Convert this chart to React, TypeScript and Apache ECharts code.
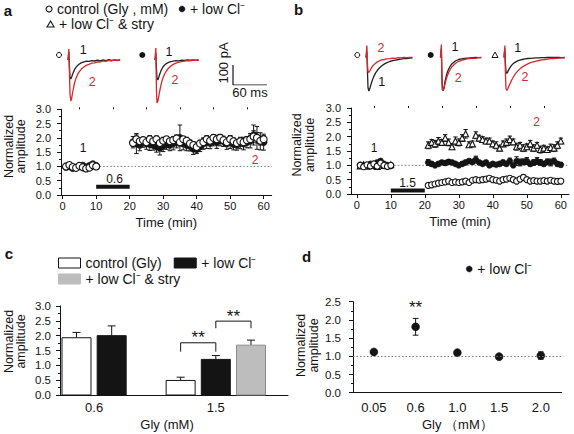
import React, { useEffect, useRef } from "react";
import * as echarts from "echarts";

const FONT = '"Liberation Sans", Arial, Helvetica, sans-serif';
const INK = "#141414";
const RED = "#d7282c";
const BAR_GRAY = "#bdbdbd";
const DOT = "#777777";

const CTRL_A = "control (Gly , mM)";
const LOW = "+ low Cl⁻";
const STRY = "+ low Cl⁻ & stry";
const CTRL_C = "control (Gly)";

// ---------- panels a & b : time course ----------
const TIME_TICKS = [0, 10, 20, 30, 40, 50, 60];
const TIME_MINOR = [5, 15, 25, 35, 45, 55];
const A_TIME_RANGE = [-0.5, 62.4];
const B_TIME_RANGE = [-1.7, 62.4];
const BASE_T = [1, 2, 3, 4, 5, 6, 7, 8, 9, 10];
const DRUG_T = [21, 22, 23, 24, 25, 26, 27, 28, 29, 30, 31, 32, 33, 34, 35, 36, 37, 38, 39, 40,
  41, 42, 43, 44, 45, 46, 47, 48, 49, 50, 51, 52, 53, 54, 55, 56, 57, 58, 59, 60];

const A_CTRL_BASE = [1.0, 1.05, 0.98, 0.95, 1.02, 0.97, 0.93, 0.96, 1.04, 1.0];
const A_CTRL_BASE_ERR = [0.04, 0.08, 0.05, 0.04, 0.05, 0.06, 0.05, 0.05, 0.06, 0.05];
const A_LOW_BASE = [0.98, 1.0, 0.94, 0.96, 1.0, 1.03, 0.97, 1.02, 1.08, 1.02];
const A_LOW_BASE_ERR = [0.05, 0.06, 0.05, 0.05, 0.04, 0.05, 0.06, 0.05, 0.06, 0.05];
const A_CTRL_DRUG = [1.82, 1.95, 1.88, 1.92, 1.85, 1.95, 1.88, 1.95, 1.82, 1.9,
  1.95, 1.88, 1.92, 1.98, 1.85, 1.95, 1.9, 1.8, 1.75, 1.68,
  1.8, 1.85, 1.95, 1.9, 2.0, 1.95, 2.0, 1.92, 1.85, 1.95,
  1.88, 1.82, 1.88, 1.85, 1.92, 1.95, 2.05, 2.0, 1.9, 1.95];
const A_CTRL_DRUG_ERR = [0.12, 0.15, 0.12, 0.1, 0.12, 0.13, 0.1, 0.12, 0.15, 0.12,
  0.1, 0.12, 0.13, 0.12, 0.14, 0.1, 0.12, 0.13, 0.12, 0.1,
  0.12, 0.13, 0.12, 0.1, 0.12, 0.14, 0.12, 0.1, 0.12, 0.13,
  0.12, 0.1, 0.12, 0.13, 0.12, 0.14, 0.2, 0.18, 0.15, 0.13];
const A_LOW_DRUG = [1.85, 1.8, 1.75, 1.85, 1.8, 1.78, 1.75, 1.7, 1.65, 1.72,
  1.78, 1.75, 1.8, 1.85, 2.0, 1.8, 1.75, 1.72, 1.62, 1.6,
  1.7, 1.8, 1.85, 1.82, 1.9, 1.85, 1.92, 1.88, 1.8, 1.85,
  1.78, 1.75, 1.82, 1.8, 1.85, 1.9, 2.1, 2.0, 1.88, 1.85];
const A_LOW_DRUG_ERR = [0.2, 0.35, 0.2, 0.18, 0.2, 0.22, 0.18, 0.2, 0.25, 0.2,
  0.18, 0.2, 0.22, 0.2, 0.45, 0.22, 0.2, 0.18, 0.2, 0.15,
  0.18, 0.2, 0.22, 0.2, 0.18, 0.22, 0.2, 0.18, 0.2, 0.22,
  0.2, 0.18, 0.2, 0.22, 0.2, 0.25, 0.35, 0.4, 0.3, 0.28];

const B_CTRL_BASE = [1.0, 0.95, 1.02, 0.98, 1.05, 0.97, 1.08, 1.0, 0.96, 1.0];
const B_CTRL_BASE_ERR = [0.05, 0.05, 0.06, 0.05, 0.05, 0.06, 0.07, 0.05, 0.05, 0.05];
const B_LOW_BASE = [1.02, 0.98, 1.0, 1.05, 1.0, 1.1, 1.15, 1.05, 1.0, 0.98];
const B_LOW_BASE_ERR = [0.05, 0.05, 0.05, 0.06, 0.05, 0.06, 0.07, 0.06, 0.05, 0.05];
const B_STRY_BASE = [0.98, 1.02, 0.97, 1.0, 1.03, 0.96, 1.05, 1.0, 0.99, 1.02];
const B_STRY_BASE_ERR = [0.05, 0.05, 0.05, 0.05, 0.05, 0.05, 0.06, 0.05, 0.05, 0.05];
const B_CTRL_DRUG = [0.3, 0.32, 0.35, 0.38, 0.4, 0.42, 0.45, 0.4, 0.42, 0.4,
  0.42, 0.45, 0.4, 0.48, 0.5, 0.48, 0.5, 0.52, 0.55, 0.5,
  0.48, 0.45, 0.5, 0.52, 0.55, 0.5, 0.45, 0.52, 0.58, 0.5,
  0.45, 0.47, 0.45, 0.45, 0.47, 0.45, 0.48, 0.45, 0.44, 0.45];
const B_CTRL_DRUG_ERR = [0.03, 0.04, 0.04, 0.05, 0.05, 0.05, 0.06, 0.05, 0.05, 0.05,
  0.05, 0.06, 0.05, 0.06, 0.06, 0.05, 0.06, 0.06, 0.07, 0.06,
  0.05, 0.05, 0.06, 0.06, 0.07, 0.06, 0.05, 0.06, 0.08, 0.06,
  0.05, 0.05, 0.05, 0.05, 0.05, 0.05, 0.05, 0.05, 0.05, 0.05];
const B_LOW_DRUG = [1.1, 1.05, 1.0, 1.05, 1.1, 1.08, 1.12, 1.1, 1.05, 1.0,
  1.05, 1.1, 1.15, 1.12, 1.2, 1.1, 1.05, 1.1, 1.0, 1.05,
  1.02, 1.05, 1.1, 1.05, 1.15, 1.0, 1.15, 1.1, 1.12, 1.15,
  1.05, 1.1, 1.15, 1.1, 1.05, 1.12, 1.1, 1.15, 1.05, 1.02];
const B_LOW_DRUG_ERR = [0.1, 0.08, 0.06, 0.07, 0.06, 0.07, 0.08, 0.07, 0.06, 0.06,
  0.07, 0.08, 0.07, 0.08, 0.12, 0.07, 0.06, 0.07, 0.06, 0.07,
  0.06, 0.07, 0.08, 0.07, 0.1, 0.06, 0.15, 0.12, 0.1, 0.12,
  0.08, 0.1, 0.12, 0.1, 0.08, 0.1, 0.12, 0.1, 0.08, 0.08];
const B_STRY_DRUG = [1.7, 1.8, 1.75, 1.85, 1.8, 1.95, 1.8, 1.65, 1.85, 1.8,
  1.95, 2.1, 1.72, 1.75, 2.05, 1.95, 1.9, 1.85, 1.85, 1.75,
  1.7, 1.6, 1.75, 1.8, 1.9, 1.82, 1.65, 1.7, 1.6, 1.65,
  1.75, 1.6, 1.7, 1.55, 1.6, 1.55, 1.62, 1.6, 1.7, 1.85];
const B_STRY_DRUG_ERR = [0.12, 0.1, 0.12, 0.12, 0.1, 0.12, 0.12, 0.1, 0.14, 0.12,
  0.12, 0.15, 0.1, 0.1, 0.12, 0.1, 0.1, 0.1, 0.1, 0.1,
  0.12, 0.1, 0.1, 0.12, 0.12, 0.1, 0.12, 0.1, 0.12, 0.1,
  0.12, 0.12, 0.1, 0.12, 0.1, 0.1, 0.12, 0.12, 0.12, 0.1];

// drug application bars (start, end) and the level they are drawn at
const A_APP = [10, 20];
const A_APP_LEVEL = 0.29;
const B_APP = [10, 20];
const B_APP_LEVEL = 0.12;
const REF_LEVEL = 1.0;
const REF_FROM = 10;

// ---------- example current traces (ms, pA) ----------
const TR_T = [0, 1.5, 2.5, 3.5, 5, 6.5, 8, 10, 12, 14, 17, 20, 24, 28, 32, 37, 42, 47, 52, 57,
  62, 67, 72, 77, 82, 87, 92, 97, 102, 107];
const TR_A1_BLACK = [0, 40, -30, -85, -95, -85, -72, -58, -46, -37, -27, -20, -13, -10, -6, -7, -3, -5, -1, -4, 0, -3, 2, -2, 1, -1, 0];
const TR_A1_RED = [0, 55, -60, -170, -205, -190, -165, -135, -110, -92, -72, -58, -44, -35, -27, -22, -16, -14, -9, -10, -5, -7, -2, -5, 0, -3, 1];
const TR_A2_BLACK = [0, 35, -40, -90, -100, -88, -74, -58, -45, -35, -25, -18, -12, -8, -6, -3, -4, -1, -2, 0, -1, 1, -1, 0];
const TR_A2_RED = [0, 60, -150, -215, -205, -185, -160, -132, -108, -90, -70, -55, -40, -30, -22, -16, -11, -8, -6, -3, -4, -1, -2, 0];
const TR_B1_BLACK = [0, 30, -60, -150, -168, -158, -142, -124, -107, -93, -77, -64, -51, -41, -33, -26, -20, -16, -13, -10, -8, -6, -6, -3, -2];
const TR_B1_RED = [0, 60, -30, -70, -75, -68, -60, -50, -42, -36, -28, -22, -16, -12, -10, -7, -6, -3, -4, -1, -2, 0, -1, 1, 0];
const TR_B2_BLACK = [0, 45, -90, -160, -165, -145, -120, -95, -75, -60, -44, -32, -22, -15, -10, -7, -5, -3, -2, -1, 0, -1, 0];
const TR_B2_RED = [0, 65, -120, -165, -162, -150, -132, -110, -92, -77, -60, -47, -35, -26, -19, -14, -10, -7, -6, -3, -4, -1, -1];
const TR_B3_BLACK = [0, 45, -30, -72, -80, -72, -63, -53, -44, -37, -29, -23, -17, -13, -10, -7, -5, -4, -3, -2, -2, -1, -1, 0, 0, 1, 0, 0, -1, 0];
const TR_B3_RED = [0, 60, -80, -155, -165, -158, -148, -135, -122, -110, -95, -82, -68, -57, -48, -39, -32, -26, -22, -18, -15, -12, -10, -8, -6, -5, -4, -3, -2, -2];
const TR_DUR = [92, 78, 86, 74, 107];
const TR_Y = [-230, 75];
const SCALE_BAR = [[0, 100], [0, 0], [60, 0]]; // 100 pA, 60 ms

// ---------- panel c ----------
const C_GROUPS = ["0.6", "1.5"];
const C_CTRL = [1.93, 0.49];
const C_CTRL_ERR = [0.18, 0.11];
const C_LOW = [2.0, 1.2];
const C_LOW_ERR = [0.33, 0.13];
const C_STRY = [null, 1.68];
const C_STRY_ERR = [null, 0.17];
const C_SIG_GROUP = [1, 1];
const C_SIG_FROM = [0, 1];
const C_SIG_TO = [1, 2];
const C_SIG_TOP = [1.76, 2.49];
const C_SIG_LEG = [0.3, 0.24];
const C_SIG_TEXT = ["**", "**"];

// ---------- panel d ----------
const D_CATS = ["0.05", "0.6", "1.0", "1.5", "2.0"];
const D_VALS = [1.12, 1.81, 1.1, 0.99, 1.02];
const D_ERRS = [0.04, 0.23, 0.04, 0.03, 0.1];
const D_SIG_CAT = [1];
const D_SIG_LEVEL = [2.33];
const D_SIG_TEXT = ["**"];

// ---------- helpers ----------
const withErr = (t: number[], v: number[], e: number[]) => t.map((x, i) => [x, v[i], e[i]]);
const zipXY = (t: number[], v: number[]) => v.map((y, i) => [t[i], y]);

const errRender = (cap: number, both: boolean) => (_p: any, api: any) => {
  const x = api.value(0), y = api.value(1), e = api.value(2);
  const p = api.coord([x, y]);
  const hi = api.coord([x, y + e]);
  const lo = both ? api.coord([x, y - e]) : p;
  const st = { stroke: INK, lineWidth: 1, fill: null };
  const children: any[] = [
    { type: "line", shape: { x1: p[0], y1: hi[1], x2: p[0], y2: lo[1] }, style: st },
    { type: "line", shape: { x1: p[0] - cap, y1: hi[1], x2: p[0] + cap, y2: hi[1] }, style: st },
  ];
  if (both) children.push({ type: "line", shape: { x1: p[0] - cap, y1: lo[1], x2: p[0] + cap, y2: lo[1] }, style: st });
  return { type: "group", children };
};

const openStyle = { color: "#fff", borderColor: INK, borderWidth: 1.1, opacity: 1 };
const fillStyle = { color: INK, borderColor: INK, borderWidth: 0.5, opacity: 1 };

function course(axis: number, name: string, symbol: string, filled: boolean, size: number, data: number[][]) {
  return [
    { type: "custom", name, xAxisIndex: axis, yAxisIndex: axis, data, renderItem: errRender(2.2, true), encode: { x: 0, y: 1 }, silent: true },
    {
      type: "scatter", name, xAxisIndex: axis, yAxisIndex: axis, data: data.map((d) => [d[0], d[1]]),
      symbol, symbolSize: size, itemStyle: filled ? fillStyle : openStyle, silent: true,
      emphasis: { disabled: true },
    },
  ];
}

function textSeries(axis: number, xs: any[], ys: number[], texts: string[], color: string, size: number) {
  return {
    type: "custom", xAxisIndex: axis, yAxisIndex: axis, silent: true, z: 5,
    data: xs.map((x, i) => [x, ys[i], i]),
    renderItem: (_p: any, api: any) => {
      const i = api.value(2);
      const p = api.coord([api.value(0), api.value(1)]);
      return {
        type: "text", x: p[0], y: p[1],
        style: { text: texts[i], fill: color, fontSize: size, fontFamily: FONT, align: "center", verticalAlign: "middle" },
      };
    },
  };
}

function lineSeries(axis: number, data: number[][], lineStyle: any, z = 2) {
  return { type: "line", xAxisIndex: axis, yAxisIndex: axis, data, symbol: "none", showSymbol: false, lineStyle, silent: true, z, animation: false };
}

function timeAxis(grid: number, range: number[]) {
  return {
    type: "value", gridIndex: grid, min: range[0], max: range[1],
    axisLine: { show: true, onZero: false, lineStyle: { color: INK, width: 1 } },
    axisTick: { show: true, customValues: TIME_TICKS, length: 4, lineStyle: { color: INK } },
    axisLabel: { customValues: TIME_TICKS, fontSize: 11, color: INK, fontFamily: FONT, margin: 5 },
    splitLine: { show: false },
    name: "Time (min)", nameLocation: "middle", nameGap: 21,
    nameTextStyle: { fontSize: 13, color: INK, fontFamily: FONT },
  };
}
function minorTimeAxis(grid: number, range: number[]) {
  return {
    type: "value", gridIndex: grid, min: range[0], max: range[1],
    axisLine: { show: false, onZero: false },
    axisTick: { show: true, customValues: TIME_MINOR, length: 2, lineStyle: { color: INK } },
    axisLabel: { show: false }, splitLine: { show: false },
  };
}
function ampAxis(grid: number, max: number, size: number, margin: number) {
  return {
    type: "value", gridIndex: grid, min: 0, max, interval: 0.5,
    axisLine: { show: true, onZero: false, lineStyle: { color: INK, width: 1 } },
    axisTick: { show: true, length: 4, lineStyle: { color: INK } },
    minorTick: { show: true, splitNumber: 2, length: 2, lineStyle: { color: INK } },
    axisLabel: { formatter: (v: number) => v.toFixed(1), fontSize: size, color: INK, fontFamily: FONT, margin },
    splitLine: { show: false }, minorSplitLine: { show: false },
  };
}
const hidden = (grid: number, min: number, max: number) => ({ type: "value", gridIndex: grid, min, max, show: false });

// panel c geometry
const C_SETS = [
  { name: CTRL_C, vals: C_CTRL, errs: C_CTRL_ERR, fill: "#fff", stroke: INK },
  { name: LOW, vals: C_LOW, errs: C_LOW_ERR, fill: INK, stroke: INK },
  { name: STRY, vals: C_STRY, errs: C_STRY_ERR, fill: BAR_GRAY, stroke: "#8c8c8c" },
];
const SLOT = 0.289;
const BAR_PX = 29;
function slotX(group: number, k: number) {
  const present = C_SETS.map((s, i) => (s.vals[group] != null ? i : -1)).filter((i) => i >= 0);
  return group + (present.indexOf(k) - (present.length - 1) / 2) * SLOT;
}
const barRender = (k: number) => (_p: any, api: any) => {
  const g = api.value(0), v = api.value(1), e = api.value(2);
  const x = slotX(g, k);
  const b = api.coord([x, 0]), t = api.coord([x, v]), et = api.coord([x, v + e]);
  const s = C_SETS[k];
  const st = { stroke: INK, lineWidth: 1, fill: null };
  return {
    type: "group", children: [
      { type: "line", shape: { x1: t[0], y1: t[1], x2: t[0], y2: et[1] }, style: st },
      { type: "line", shape: { x1: t[0] - 4, y1: et[1], x2: t[0] + 4, y2: et[1] }, style: st },
      { type: "rect", shape: { x: b[0] - BAR_PX / 2, y: t[1], width: BAR_PX, height: b[1] - t[1] }, style: { fill: s.fill, stroke: s.stroke, lineWidth: 1 } },
    ],
  };
};
const sigRender = (_p: any, api: any) => {
  const i = api.value(2);
  const g = C_SIG_GROUP[i];
  const top = C_SIG_TOP[i], leg = C_SIG_LEG[i];
  const xl = slotX(g, C_SIG_FROM[i]), xr = slotX(g, C_SIG_TO[i]);
  const pts = [api.coord([xl, top - leg]), api.coord([xl, top]), api.coord([xr, top]), api.coord([xr, top - leg])];
  return {
    type: "group", children: [
      { type: "polyline", shape: { points: pts }, style: { stroke: INK, lineWidth: 1, fill: null } },
      {
        type: "text", x: (pts[1][0] + pts[2][0]) / 2, y: pts[1][1] - 5,
        style: { text: C_SIG_TEXT[i], fill: INK, fontSize: 17, fontFamily: FONT, align: "center", verticalAlign: "middle" },
      },
    ],
  };
};

function buildOption(): any {
  const PX_MS = 34 / 60, PX_PA = 0.2;
  const trH = (TR_Y[1] - TR_Y[0]) * PX_PA;
  const trGrid = (left: number, base: number, dur: number) => ({ left, top: base - TR_Y[1] * PX_PA, width: dur * PX_MS, height: trH, outerBoundsMode: "none" });

  const grids = [
    { left: 61, top: 109.3, width: 210.7, height: 85.7, outerBoundsMode: "none" }, // a
    { left: 351, top: 108, width: 218, height: 86, outerBoundsMode: "none" }, // b
    { left: 60, top: 306, width: 228, height: 89, outerBoundsMode: "none" }, // c
    { left: 353, top: 301.7, width: 208.7, height: 91, outerBoundsMode: "none" }, // d
    trGrid(68, 60, TR_DUR[0]),
    trGrid(155, 60, TR_DUR[1]),
    trGrid(366, 57.5, TR_DUR[2]),
    trGrid(440.5, 57.5, TR_DUR[3]),
    trGrid(504, 57.5, TR_DUR[4]),
    { left: 233, top: 65, width: 60 * PX_MS, height: 100 * PX_PA, outerBoundsMode: "none" }, // scale bar
  ];

  const xAxis: any[] = [
    timeAxis(0, A_TIME_RANGE),
    timeAxis(1, B_TIME_RANGE),
    {
      type: "value", gridIndex: 2, min: -0.28, max: 1.593,
      axisLine: { show: true, onZero: false, lineStyle: { color: INK } }, axisTick: { show: false },
      axisLabel: { customValues: C_GROUPS.map((_, i) => i), formatter: (v: number) => C_GROUPS[Math.round(v)], fontSize: 13, color: INK, fontFamily: FONT, margin: 6 },
      splitLine: { show: false },
      name: "Gly (mM)", nameLocation: "middle", nameGap: 23,
      nameTextStyle: { fontSize: 13, color: INK, fontFamily: FONT, padding: [0, 14, 0, 0] },
    },
    {
      type: "category", gridIndex: 3, data: D_CATS, boundaryGap: true,
      axisLine: { show: true, onZero: false, lineStyle: { color: INK } }, axisTick: { show: false },
      axisLabel: { fontSize: 13, color: INK, fontFamily: FONT, margin: 8 },
      name: "Gly （mM）", nameLocation: "middle", nameGap: 25,
      nameTextStyle: { fontSize: 13, color: INK, fontFamily: FONT },
    },
    hidden(4, 0, TR_DUR[0]), hidden(5, 0, TR_DUR[1]), hidden(6, 0, TR_DUR[2]), hidden(7, 0, TR_DUR[3]), hidden(8, 0, TR_DUR[4]),
    hidden(9, 0, 60),
    minorTimeAxis(0, A_TIME_RANGE),
    minorTimeAxis(1, B_TIME_RANGE),
  ];
  const yAxis: any[] = [
    ampAxis(0, 3, 11, 10),
    ampAxis(1, 3, 11, 10),
    ampAxis(2, 3, 11.5, 9),
    ampAxis(3, 2.5, 11.5, 12),
    hidden(4, TR_Y[0], TR_Y[1]), hidden(5, TR_Y[0], TR_Y[1]), hidden(6, TR_Y[0], TR_Y[1]), hidden(7, TR_Y[0], TR_Y[1]), hidden(8, TR_Y[0], TR_Y[1]),
    hidden(9, 0, 100),
  ];

  const dotted = { color: DOT, width: 1, type: [1.5, 2] };
  const TRW = 1.3;
  const series: any[] = [
    // panel a
    lineSeries(0, [[REF_FROM, REF_LEVEL], [A_TIME_RANGE[1], REF_LEVEL]], dotted, 1),
    lineSeries(0, [[A_APP[0], A_APP_LEVEL], [A_APP[1], A_APP_LEVEL]], { color: INK, width: 4 }),
    ...course(0, LOW, "circle", true, 7, withErr(BASE_T, A_LOW_BASE, A_LOW_BASE_ERR).concat(withErr(DRUG_T, A_LOW_DRUG, A_LOW_DRUG_ERR))),
    ...course(0, CTRL_A, "circle", false, 7, withErr(BASE_T, A_CTRL_BASE, A_CTRL_BASE_ERR).concat(withErr(DRUG_T, A_CTRL_DRUG, A_CTRL_DRUG_ERR))),
    // panel b
    lineSeries(1, [[REF_FROM, REF_LEVEL], [B_TIME_RANGE[1], REF_LEVEL]], dotted, 1),
    lineSeries(1, [[B_APP[0], B_APP_LEVEL], [B_APP[1], B_APP_LEVEL]], { color: INK, width: 4 }),
    ...course(1, STRY, "triangle", false, 6, withErr(BASE_T, B_STRY_BASE, B_STRY_BASE_ERR).concat(withErr(DRUG_T, B_STRY_DRUG, B_STRY_DRUG_ERR))),
    ...course(1, LOW, "circle", true, 6, withErr(BASE_T, B_LOW_BASE, B_LOW_BASE_ERR).concat(withErr(DRUG_T, B_LOW_DRUG, B_LOW_DRUG_ERR))),
    ...course(1, CTRL_A, "circle", false, 6, withErr(BASE_T, B_CTRL_BASE, B_CTRL_BASE_ERR).concat(withErr(DRUG_T, B_CTRL_DRUG, B_CTRL_DRUG_ERR))),
    // traces
    lineSeries(4, zipXY(TR_T, TR_A1_BLACK), { color: "#222", width: TRW }),
    lineSeries(4, zipXY(TR_T, TR_A1_RED), { color: RED, width: TRW }),
    lineSeries(5, zipXY(TR_T, TR_A2_BLACK), { color: "#222", width: TRW }),
    lineSeries(5, zipXY(TR_T, TR_A2_RED), { color: RED, width: TRW }),
    lineSeries(6, zipXY(TR_T, TR_B1_BLACK), { color: "#222", width: TRW }),
    lineSeries(6, zipXY(TR_T, TR_B1_RED), { color: RED, width: TRW }),
    lineSeries(7, zipXY(TR_T, TR_B2_BLACK), { color: "#222", width: TRW }),
    lineSeries(7, zipXY(TR_T, TR_B2_RED), { color: RED, width: TRW }),
    lineSeries(8, zipXY(TR_T, TR_B3_BLACK), { color: "#222", width: TRW }),
    lineSeries(8, zipXY(TR_T, TR_B3_RED), { color: RED, width: TRW }),
    lineSeries(9, SCALE_BAR, { color: INK, width: 1.2 }),
    // panel c
    ...C_SETS.map((s, k) => ({
      type: "custom", name: s.name, xAxisIndex: 2, yAxisIndex: 2, silent: true, encode: { x: 0, y: 1 },
      data: s.vals.map((v, g) => (v == null ? null : [g, v, s.errs[g]])).filter((d) => d != null),
      renderItem: barRender(k),
    })),
    {
      type: "custom", xAxisIndex: 2, yAxisIndex: 2, silent: true, encode: { x: 0, y: 1 },
      data: C_SIG_GROUP.map((g, i) => [g, C_SIG_TOP[i], i]), renderItem: sigRender,
    },
    // panel d
    {
      type: "line", xAxisIndex: 3, yAxisIndex: 3, data: [], silent: true,
      markLine: { silent: true, symbol: "none", label: { show: false }, lineStyle: dotted, data: [{ yAxis: REF_LEVEL }], animation: false },
    },
    { type: "custom", name: LOW, xAxisIndex: 3, yAxisIndex: 3, silent: true, encode: { x: 0, y: 1 }, data: D_VALS.map((v, i) => [i, v, D_ERRS[i]]), renderItem: errRender(2.8, true) },
    { type: "scatter", name: LOW, xAxisIndex: 3, yAxisIndex: 3, silent: true, data: D_VALS, symbol: "circle", symbolSize: 8, itemStyle: fillStyle, emphasis: { disabled: true } },
    textSeries(3, D_SIG_CAT, D_SIG_LEVEL, D_SIG_TEXT, INK, 17),
  ];

  const txt = (text: string, x: number, y: number, color = INK, size = 12.5, extra: any = {}) => ({
    type: "text", x, y, silent: true, z: 10,
    style: { text, fill: color, fontSize: size, fontFamily: FONT, align: "center", verticalAlign: "middle", ...extra },
  });
  const yName = (x: number, y: number) => ({
    type: "text", x, y, rotation: Math.PI / 2, silent: true,
    style: { text: "Normalized\namplitude", fill: INK, fontSize: 12.5, lineHeight: 12.5, fontFamily: FONT, align: "center", verticalAlign: "middle" },
  });
  const openC = (x: number, y: number) => ({ type: "circle", shape: { cx: x, cy: y, r: 2.5 }, style: { fill: "#fff", stroke: INK, lineWidth: 1 }, silent: true });
  const fillC = (x: number, y: number) => ({ type: "circle", shape: { cx: x, cy: y, r: 3 }, style: { fill: INK }, silent: true });
  const tri = (x: number, y: number) => ({ type: "polygon", shape: { points: [[x, y - 3], [x + 3, y + 2.5], [x - 3, y + 2.5]] }, style: { fill: "#fff", stroke: INK, lineWidth: 1 }, silent: true });

  const graphic = [
    txt("a", 8, 10, INK, 15, { fontWeight: "bold" }),
    txt("b", 298.5, 9.5, INK, 15, { fontWeight: "bold" }),
    txt("c", 9, 253, INK, 15, { fontWeight: "bold" }),
    txt("d", 306.5, 256, INK, 15, { fontWeight: "bold" }),
    yName(15, 146.5), yName(303.5, 145), yName(15, 341.5), yName(307.5, 345.5),
    openC(59, 55), fillC(142.3, 55), openC(357.3, 55), fillC(430.7, 55), tri(495, 55),
    // inset trace labels
    txt("1", 83.3, 50), txt("2", 92.3, 81.7, RED), txt("1", 169, 51.7), txt("2", 175, 80, RED),
    txt("2", 381, 48.3, RED), txt("1", 381.7, 81.7), txt("1", 455, 47.3), txt("2", 458.3, 78.3, RED),
    txt("1", 517.7, 48.3), txt("2", 525, 77.3, RED),
    // time-course labels
    txt("1", 83, 148, INK, 12), txt("2", 255, 160, RED, 12), txt("0.6", 114.5, 179, INK, 12),
    txt("1", 374, 148.3, INK, 12), txt("2", 536.7, 122.3, RED, 12), txt("1.5", 407.5, 182.5, INK, 12),
    { type: "text", x: 223.5, y: 63, rotation: Math.PI / 2, silent: true, style: { text: "100 pA", fill: INK, fontSize: 13, fontFamily: FONT, align: "center", verticalAlign: "middle" } },
    txt("60 ms", 250, 92.5, INK, 13),
  ];

  const legText = { fontSize: 14, color: INK, fontFamily: FONT };
  const legBase = { orient: "horizontal", padding: 0, selectedMode: false, textStyle: legText };
  const legend = [
    {
      ...legBase, left: 45.5, top: 2, itemWidth: 6, itemHeight: 6, itemGap: 10.5,
      data: [{ name: CTRL_A, icon: "circle", itemStyle: openStyle }, { name: LOW, icon: "circle", itemStyle: fillStyle }],
    },
    { ...legBase, left: 46.5, top: 17, itemWidth: 7, itemHeight: 6, data: [{ name: STRY, icon: "triangle", itemStyle: openStyle }] },
    {
      ...legBase, left: 58, top: 256, itemWidth: 22, itemHeight: 10, itemGap: 12,
      data: [
        { name: CTRL_C, icon: "rect", itemStyle: { color: "#fff", borderColor: INK, borderWidth: 1 } },
        { name: LOW, icon: "rect", itemStyle: { color: INK, borderColor: INK, borderWidth: 1 } },
      ],
    },
    { ...legBase, left: 58, top: 272, itemWidth: 22, itemHeight: 10, data: [{ name: STRY, icon: "rect", itemStyle: { color: BAR_GRAY, borderColor: BAR_GRAY, borderWidth: 1 } }] },
    { ...legBase, left: 466, top: 262, itemWidth: 6, itemHeight: 6, data: [{ name: LOW, icon: "circle", itemStyle: fillStyle }] },
  ];

  return {
    animation: false,
    backgroundColor: "#ffffff",
    textStyle: { fontFamily: FONT },
    grid: grids, xAxis, yAxis, series, legend, graphic,
  };
}

export default function App() {
  const ref = useRef<HTMLDivElement>(null);
  useEffect(() => {
    if (!ref.current) return;
    const chart = echarts.init(ref.current, null, { renderer: "svg" });
    chart.setOption(buildOption());
    return () => chart.dispose();
  }, []);
  return <div ref={ref} style={{ position: "absolute", left: 0, top: 0, width: 574, height: 434, background: "#fff" }} />;
}
